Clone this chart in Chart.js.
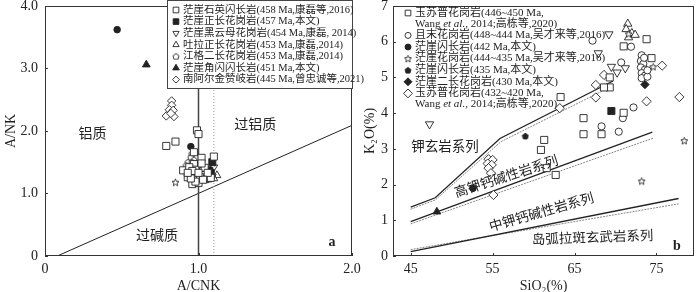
<!DOCTYPE html>
<html>
<head>
<meta charset="utf-8">
<script src="https://cdn.jsdelivr.net/npm/chart.js@4.4.1/dist/chart.umd.min.js"></script>
<style>
  html, body { margin: 0; padding: 0; background: #fff; }
  #wrap { position: relative; width: 700px; height: 292px; overflow: hidden; }
  #boxA { position: absolute; left: 0; top: 0; }
  #boxB { position: absolute; left: 350px; top: 0; }
</style>
</head>
<body>
<div id="wrap">
  <div id="boxA"><canvas id="chartA" width="365" height="292"></canvas></div>
  <div id="boxB"><canvas id="chartB" width="350" height="292"></canvas></div>
</div>
<script>
// ---- 图a 数据: [A/CNK, A/NK]
const aQtzDiorite = [[0.79,1.76],[0.85,1.83],[0.99,2.01],[1.00,1.95],[0.97,1.66],[1.02,1.57],[1.10,1.59],[0.90,1.37],
  [0.93,1.26],[0.96,1.15],[0.99,1.21],[1.01,1.43],[0.97,1.47],[0.95,1.32],[1.03,1.36],[1.05,1.28],[1.08,1.25],
  [0.98,1.38],[1.02,1.30],[0.99,1.25],[1.04,1.41],[1.06,1.33],[0.94,1.42],[1.00,1.17],[0.96,1.36],[1.01,1.26],
  [0.98,1.19],[1.03,1.22],[0.95,1.24],[1.00,1.33],[1.02,1.48],[0.93,1.33]];
const aSyenogranite = [[1.09,1.50],[1.03,1.35],[1.05,1.32],[1.07,1.29],[1.04,1.27],[1.06,1.37],[1.08,1.33],[1.02,1.31],
  [1.05,1.25],[1.07,1.36],[1.03,1.29],[1.06,1.27],[1.04,1.34]];
const aBiotiteGranite = [[1.10,1.42],[1.07,1.33],[1.09,1.27],[1.04,1.24],[1.01,1.35]];
const aTulaGranite = [[1.12,1.29],[1.10,1.24],[1.06,1.22],[1.08,1.31],[1.04,1.21]];
const aJianggeGranite = [[0.955,1.63],[0.95,1.58],[0.93,1.50],[0.955,1.46],[0.97,1.41],[0.94,1.39],[0.98,1.34],
  [0.96,1.29],[1.00,1.38],[0.97,1.54],[0.92,1.45],[0.99,1.30],[0.96,1.50],[0.98,1.44],[1.01,1.32],[0.97,1.25]];
const aHbDiorite = [[0.66,3.06]];
const aSanukitoid = [[0.825,2.48],[0.825,2.41],[0.81,2.34],[0.835,2.33],[0.79,2.24],[0.84,2.23],[0.82,2.28]];
const aOtherDots = [[0.47,3.62],[0.95,1.75]];
const aOtherStar = [[0.85,1.18]];
// 分界线
const aPeralkLine = [[0.08,0],[2.0,2.09]];
const aMetalLine = [[1.0,0],[1.0,4.0]];
const aDotLine = [[1.1,0],[1.1,4.0]];
const aXTicks = [0, 1, 2];
const aXTickLabels = ['0', '1.0', '2.0'];
const aYTicks = [0, 1, 2, 3, 4];
const aYTickLabels = ['0', '1.0', '2.0', '3.0', '4.0'];

// ---- 图b 数据: [SiO2, K2O]
const bYusupuOld = [[63.3,4.45],[66.1,3.86],[66.1,3.41],[68.3,3.41],[69.3,5.00],[69.3,4.72],[68.6,4.72],[61.3,3.25],
  [60.9,2.97],[61.6,2.46],[62.7,2.27],[71.0,5.87],[73.8,6.07],[74.4,5.54],[71.0,4.01]];
const bQiemo = [[67.2,6.03],[71.9,5.86],[70.7,5.42],[68.3,3.63],[70.4,3.48],[70.9,3.86],[72.2,4.16],[73.2,5.62],
  [73.1,5.46],[73.4,5.38],[73.1,5.28],[73.6,5.22],[73.2,5.12],[73.6,5.05],[73.2,4.98],[73.9,5.02],[73.5,5.55],[73.9,5.20]];
const bDiorite442 = [[52.6,1.90]];
const bGranite444 = [[73.2,2.10],[78.4,3.23],[74.6,5.30],[71.6,6.22]];
const bDiorite435 = [[59.0,3.36]];
const bMonzogranite = [[73.6,4.80]];
const bYusupuYoung = [[63.2,4.14],[67.6,4.79],[67.6,4.44],[68.6,5.07],[75.7,5.33],[77.8,4.45],[73.8,4.33],
  [54.5,2.71],[55.0,2.69],[54.4,2.59],[54.9,2.55],[54.5,2.46],[54.8,2.32],[55.1,1.71]];
const bSyenogranite = [[69.5,4.06]];
const bHbDiorite = [[48.2,1.24]];
const bBiotiteGranite = [[47.3,3.69],[69.2,6.21],[67.9,5.68],[69.5,5.30],[70.2,5.14],[71.2,5.26]];
const bTulaGranite = [[71.5,6.50],[71.3,6.35],[72.0,6.24],[72.4,6.19],[71.6,6.12]];
// 分界线
const bShoLine = [[45,1.37],[48,1.63],[55.9,3.29],[69.7,4.90]];
const bShoLineG = [[45,1.31],[48,1.57],[56.0,3.20],[69.7,4.77]];
const bHighKLine = [[45,0.96],[74.5,3.47]];
const bHighKLineG = [[45,0.90],[74.6,3.30]];
const bMedKLine = [[45,0.12],[77.7,1.61]];
const bMedKLineG = [[45,0.18],[77.7,1.46]];
const bXTicks = [45, 55, 65, 75];
const bYTicks = [0, 1, 2, 3, 4, 5, 6, 7];

const SERIF = '"Liberation Serif", "Noto Sans CJK SC", serif';
const INK = '#222';
Chart.defaults.font.family = SERIF;
Chart.defaults.color = INK;

// 自绘符号: 五角星, 五边形
function shapeImage(kind, size, filled) {
  const c = document.createElement('canvas');
  c.width = c.height = size;
  const g = c.getContext('2d');
  const cx = size / 2, cy = size / 2 + 0.4, R = size / 2 - 0.8;
  g.beginPath();
  const n = kind === 'star' ? 10 : 5;
  for (let i = 0; i < n; i++) {
    const ang = -Math.PI / 2 + i * 2 * Math.PI / n;
    const rr = (kind === 'star' && i % 2) ? R * 0.45 : R;
    g.lineTo(cx + rr * Math.cos(ang), cy + rr * Math.sin(ang));
  }
  g.closePath();
  g.fillStyle = filled ? INK : '#fff';
  g.fill();
  g.strokeStyle = INK;
  g.lineWidth = 0.9;
  g.stroke();
  return c;
}
const starOpen = shapeImage('star', 9, false);
const pentOpen = shapeImage('pent', 8, false);
const pentFill = shapeImage('pent', 8, true);

const xy = arr => arr.map(([x, y]) => ({x, y}));
function pts(label, arr, style, radius, filled, extra) {
  return Object.assign({
    label, data: xy(arr), pointStyle: style, pointRadius: radius, pointHoverRadius: radius,
    pointBackgroundColor: filled ? INK : '#fff', pointBorderColor: INK, pointBorderWidth: 0.9,
    showLine: false, legendRadius: radius * 0.8
  }, extra || {});
}
function line(arr, color, width, dash) {
  return { data: xy(arr), showLine: true, pointRadius: 0, borderColor: color, borderWidth: width,
    borderDash: dash || [], fill: false, inLegend: false, tension: 0 };
}

// 画带斜体 "et al." 的文字
function richText(ctx, text, x, y, size) {
  const parts = text.split('et al.');
  let cx = x;
  parts.forEach((p, i) => {
    ctx.font = size + 'px ' + SERIF;
    ctx.fillText(p, cx, y);
    cx += ctx.measureText(p).width;
    if (i < parts.length - 1) {
      ctx.font = 'italic ' + size + 'px ' + SERIF;
      ctx.fillText('et al.', cx, y);
      cx += ctx.measureText('et al.').width;
    }
  });
}

const paperPlugin = {
  id: 'paper',
  afterDatasetsDraw(chart, args, o) {
    const {ctx, chartArea: a, scales: {x, y}} = chart;
    ctx.save();
    ctx.strokeStyle = '#333';
    ctx.lineWidth = 1;
    ctx.setLineDash([]);
    // 内向刻度
    ctx.beginPath();
    o.xTicks.forEach(v => {
      const px = Math.round(x.getPixelForValue(v)) + 0.5;
      ctx.moveTo(px, a.bottom); ctx.lineTo(px, a.bottom - 3);
    });
    o.yTicks.forEach(v => {
      const py = Math.round(y.getPixelForValue(v)) + 0.5;
      ctx.moveTo(a.left, py); ctx.lineTo(a.left + 3, py);
    });
    ctx.stroke();
    // 外框
    ctx.strokeRect(Math.round(a.left) + 0.5, Math.round(a.top) + 0.5,
      Math.round(a.right - a.left) - 1, Math.round(a.bottom - a.top) - 1);
    // 区域标注
    ctx.fillStyle = INK;
    ctx.textAlign = 'center';
    ctx.textBaseline = 'middle';
    o.labels.forEach(l => {
      ctx.save();
      ctx.translate(x.getPixelForValue(l.at[0]), y.getPixelForValue(l.at[1]));
      ctx.rotate((l.rot || 0) * Math.PI / 180);
      ctx.font = l.font;
      ctx.fillText(l.text, 0, 0);
      ctx.restore();
    });
    // 图例
    const L = o.legend;
    const items = chart.data.datasets.filter(d => d.inLegend !== false && d.label);
    if (L.box) {
      ctx.fillStyle = '#fff';
      ctx.fillRect(L.box[0], L.box[1], L.box[2], L.box[3]);
      ctx.strokeStyle = '#444';
      ctx.strokeRect(L.box[0] + 0.5, L.box[1] + 0.5, L.box[2] - 1, L.box[3] - 1);
    }
    let row = L.top;
    ctx.textAlign = 'left';
    items.forEach(d => {
      ctx.save();
      ctx.fillStyle = d.pointBackgroundColor;
      ctx.strokeStyle = d.pointBorderColor;
      ctx.lineWidth = d.pointBorderWidth;
      Chart.helpers.drawPoint(ctx, {
        pointStyle: d.pointStyle, rotation: d.pointRotation || 0,
        radius: d.legendRadius, borderWidth: d.pointBorderWidth
      }, L.symX, row);
      ctx.restore();
      ctx.fillStyle = INK;
      const lines = Array.isArray(d.label) ? d.label : [d.label];
      lines.forEach((t, k) => {
        richText(ctx, t, L.textX, row, L.size);
        if (k < lines.length - 1) row += L.wrapH;
      });
      row += L.rowH;
    });
    ctx.restore();
  }
};

function scaleOpts(min, max, ticks, labels, width, height, axis, titleText, titlePad, tickPad) {
  const isX = axis === 'x';
  return {
    type: 'linear', min, max,
    border: { display: false },
    grid: { display: false, drawTicks: false },
    afterBuildTicks: s => { s.ticks = ticks.map(v => ({value: v})); },
    afterFit: s => {
      if (isX) { s.height = height; s.paddingLeft = 0; s.paddingRight = 0; }
      else { s.width = width; s.paddingTop = 0; s.paddingBottom = 0; }
    },
    ticks: {
      autoSkip: false, maxRotation: 0, padding: tickPad, color: INK,
      font: { size: 14, family: SERIF },
      callback: v => labels[ticks.indexOf(v)]
    },
    title: { display: true, text: titleText, color: INK, font: { size: 14, family: SERIF, lineHeight: 1.2 }, padding: titlePad }
  };
}

// ---- 图a
new Chart(document.getElementById('chartA'), {
  type: 'scatter',
  data: {
    datasets: [
      pts('茫崖石英闪长岩(458 Ma,康磊等,2016)', aQtzDiorite, 'rect', 5, false),
      pts('茫崖正长花岗岩(457 Ma,本文)', aSyenogranite, 'rect', 5, true),
      pts('茫崖黑云母花岗岩(454 Ma,康磊, 2014)', aBiotiteGranite, 'triangle', 4.5, false, {pointRotation: 180}),
      pts('吐拉正长花岗岩(453 Ma,康磊,2014)', aTulaGranite, 'triangle', 4.5, false),
      pts('江格二长花岗岩(453 Ma,康磊,2014)', aJianggeGranite, pentOpen, 4, false, {legendRadius: 3.5}),
      pts('茫崖角闪闪长岩(451 Ma,本文)', aHbDiorite, 'triangle', 4.5, true, {legendRadius: 3.8}),
      pts('南阿尔金赞岐岩(445 Ma,曾忠诚等,2021)', aSanukitoid, 'rectRot', 4.2, false, {legendRadius: 3.5}),
      pts('', aOtherDots, 'circle', 3.3, true, {inLegend: false}),
      pts('', aOtherStar, starOpen, 4, false, {inLegend: false}),
      line(aMetalLine, '#444', 1.5),
      line(aDotLine, '#999', 1, [1, 2]),
      line(aPeralkLine, INK, 1)
    ]
  },
  options: {
    responsive: false, animation: false, events: [],
    layout: { padding: { left: 0, top: 4, right: 13, bottom: 0 } },
    plugins: {
      legend: { display: false }, tooltip: { enabled: false },
      paper: {
        xTicks: aXTicks, yTicks: aYTicks,
        labels: [
          { text: '铝质', at: [0.31, 1.95], font: '14px ' + SERIF },
          { text: '过铝质', at: [1.37, 2.09], font: '14px ' + SERIF },
          { text: '过碱质', at: [0.73, 0.31], font: '14px ' + SERIF },
          { text: 'a', at: [1.87, 0.21], font: 'bold 14px ' + SERIF }
        ],
        legend: { box: [167, 0, 186, 89], top: 10, rowH: 11.6, wrapH: 11, symX: 176, textX: 183, size: 10.5 }
      }
    },
    scales: {
      x: scaleOpts(0, 2, aXTicks, aXTickLabels, 0, 36, 'x', 'A/CNK', {top: 0, bottom: -3}, 5),
      y: scaleOpts(0, 4, aYTicks, aYTickLabels, 45, 0, 'y', 'A/NK', {top: 3, bottom: 0}, 7)
    }
  },
  plugins: [paperPlugin]
});

// ---- 图b
new Chart(document.getElementById('chartB'), {
  type: 'scatter',
  data: {
    datasets: [
      pts(['玉苏普花岗岩(446~450 Ma,', 'Wang et al., 2014;高栋等,2020)'], bYusupuOld, 'rect', 5, false),
      pts('且末花岗岩(448~444 Ma,吴才来等,2016)', bQiemo, 'circle', 3.6, false, {legendRadius: 3}),
      pts('茫崖闪长岩(442 Ma,本文)', bDiorite442, 'circle', 3.4, true, {legendRadius: 3}),
      pts('茫崖花岗岩(444~435 Ma,吴才来等,2016)', bGranite444, starOpen, 4.5, false, {legendRadius: 4}),
      pts('茫崖闪长岩(435 Ma,本文)', bDiorite435, pentFill, 4, true, {legendRadius: 3.5}),
      pts('茫崖二长花岗岩(430 Ma,本文)', bMonzogranite, 'rectRot', 4.2, true, {legendRadius: 4}),
      pts(['玉苏普花岗岩(432~420 Ma,', 'Wang et al., 2014;高栋等,2020)'], bYusupuYoung, 'rectRot', 4.6, false, {legendRadius: 4.4}),
      pts('', bSyenogranite, 'rect', 5, true, {inLegend: false}),
      pts('', bHbDiorite, 'triangle', 4.5, true, {inLegend: false}),
      pts('', bBiotiteGranite, 'triangle', 4.8, false, {inLegend: false, pointRotation: 180}),
      pts('', bTulaGranite, 'triangle', 4.8, false, {inLegend: false}),
      line(bShoLine, INK, 1.3),
      line(bShoLineG, '#888', 1, [2, 1]),
      line(bHighKLine, INK, 1.3),
      line(bHighKLineG, '#888', 1, [2, 1]),
      line(bMedKLine, INK, 1.3),
      line(bMedKLineG, '#888', 1, [2, 1])
    ]
  },
  options: {
    responsive: false, animation: false, events: [],
    layout: { padding: { left: 0, top: 6, right: 1, bottom: 0 } },
    plugins: {
      legend: { display: false }, tooltip: { enabled: false },
      paper: {
        xTicks: bXTicks, yTicks: bYTicks,
        labels: [
          { text: '钾玄岩系列', at: [49.2, 3.05], font: '13.5px ' + SERIF },
          { text: '高钾钙碱性岩系列', at: [56.7, 2.20], rot: -18, font: '13.5px ' + SERIF },
          { text: '中钾钙碱性岩系列', at: [61.0, 1.20], rot: -16, font: '13.5px ' + SERIF },
          { text: '岛弧拉斑玄武岩系列', at: [67.2, 0.49], rot: -2, font: '13.5px ' + SERIF },
          { text: 'b', at: [77.5, 0.28], font: 'bold 14px ' + SERIF }
        ],
        legend: { top: 13, rowH: 11.6, wrapH: 10.8, symX: 58, textX: 65, size: 11 }
      }
    },
    scales: {
      x: scaleOpts(42.84, 79.6, bXTicks, bXTicks.map(String), 0, 36, 'x', 'SiO₂(%)', {top: 0, bottom: -3}, 5),
      y: scaleOpts(0, 7, bYTicks, bYTicks.map(String), 43, 0, 'y', 'K₂O(%)', {top: 12, bottom: 0}, 5)
    }
  },
  plugins: [paperPlugin]
});
</script>
</body>
</html>
